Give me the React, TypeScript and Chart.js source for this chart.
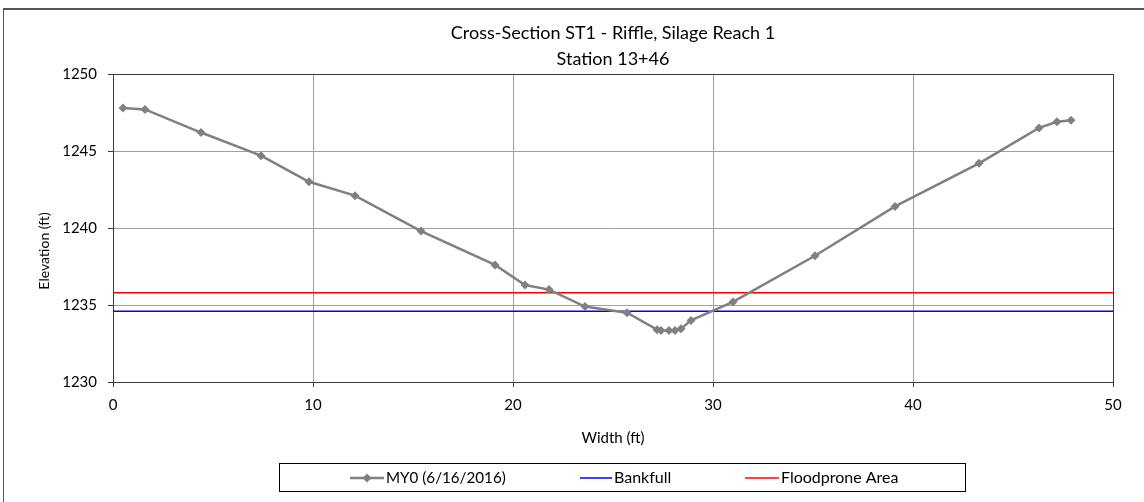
import React, { useEffect, useRef } from "react";
import { Chart, registerables } from "chart.js";

Chart.register(...registerables);

const titleLines = ["Cross-Section ST1 - Riffle, Silage Reach 1", "Station 13+46"];
const xAxisTitle = "Width (ft)";
const yAxisTitle = "Elevation (ft)";

const surveyLabel = "MY0 (6/16/2016)";
const bankfullLabel = "Bankfull";
const floodproneLabel = "Floodprone Area";

const widthFt = [0.5, 1.6, 4.4, 7.4, 9.8, 12.1, 15.4, 19.1, 20.6, 21.8, 23.6, 25.7, 27.2, 27.4, 27.8, 28.1, 28.4, 28.9, 31.0, 35.1, 39.1, 43.3, 46.3, 47.2, 47.9];
const elevationFt = [1247.8, 1247.7, 1246.2, 1244.7, 1243.0, 1242.1, 1239.8, 1237.6, 1236.3, 1236.0, 1234.9, 1234.5, 1233.4, 1233.35, 1233.35, 1233.35, 1233.45, 1234.0, 1235.2, 1238.2, 1241.4, 1244.2, 1246.5, 1246.9, 1247.0];

const bankfullElev = 1234.6;
const floodproneElev = 1235.8;
const xRange = [0, 50];
const yRange = [1230, 1250];
const xStep = 10;
const yStep = 5;

const FONT = "Lato, 'Open Sans', sans-serif";

export default function App() {
  const canvasRef = useRef<HTMLCanvasElement | null>(null);

  useEffect(() => {
    const canvas = canvasRef.current;
    if (!canvas) return;

    const framePlugin = {
      id: "frame",
      beforeDatasetsDraw(chart: any) {
        const { ctx, chartArea: a } = chart;
        ctx.save();
        ctx.strokeStyle = "#3a3a3a";
        ctx.lineWidth = 1;
        ctx.strokeRect(Math.round(a.left) + 0.5, Math.round(a.top) + 0.5, Math.round(a.right - a.left), Math.round(a.bottom - a.top));
        ctx.restore();
      },
    };

    const yTitlePlugin = {
      id: "yTitle",
      afterDraw(chart: any) {
        const { ctx } = chart;
        ctx.save();
        ctx.translate(44, 251);
        ctx.rotate(-Math.PI / 2);
        ctx.font = `14px ${FONT}`;
        ctx.fillStyle = "#000";
        ctx.textAlign = "center";
        ctx.textBaseline = "middle";
        ctx.fillText(yAxisTitle, 0, 0);
        ctx.restore();
      },
    };

    const legendPlugin = {
      id: "boxLegend",
      afterDraw(chart: any) {
        const { ctx } = chart;
        const ds = chart.data.datasets;
        const y = 478;
        ctx.save();
        ctx.strokeStyle = "#000";
        ctx.lineWidth = 1;
        ctx.strokeRect(279.5, 463.5, 686, 28);
        const starts = [350, 580, 745];
        const lens = [34, 32, 34];
        ctx.textBaseline = "middle";
        ctx.textAlign = "left";
        ds.forEach((d: any, i: number) => {
          const x0 = starts[i];
          const x1 = x0 + lens[i];
          ctx.strokeStyle = d.borderColor;
          ctx.lineWidth = i === 0 ? 2.5 : 1.5;
          ctx.beginPath();
          ctx.moveTo(x0, y);
          ctx.lineTo(x1, y);
          ctx.stroke();
          if (i === 0) {
            const cx = (x0 + x1) / 2;
            const r = 4.5;
            ctx.fillStyle = d.pointBackgroundColor;
            ctx.beginPath();
            ctx.moveTo(cx, y - r);
            ctx.lineTo(cx + r, y);
            ctx.lineTo(cx, y + r);
            ctx.lineTo(cx - r, y);
            ctx.closePath();
            ctx.fill();
          }
          ctx.fillStyle = "#000";
          ctx.font = i === 0 ? `15.2px ${FONT}` : `16px ${FONT}`;
          ctx.fillText(d.label, x1 + 2, y);
        });
        ctx.restore();
      },
    };

    const surveyData = widthFt.map((x, i) => ({ x, y: elevationFt[i] }));
    const bankfullData = xRange.map((x) => ({ x, y: bankfullElev }));
    const floodproneData = xRange.map((x) => ({ x, y: floodproneElev }));

    const chart = new Chart(canvas, {
      type: "scatter",
      data: {
        datasets: [
          {
            label: surveyLabel,
            data: surveyData,
            showLine: true,
            borderColor: "#808080",
            backgroundColor: "#808080",
            pointBackgroundColor: "#808080",
            pointBorderColor: "#808080",
            borderWidth: 2.5,
            pointStyle: "rectRot",
            pointRadius: 4.5,
            pointBorderWidth: 0,
          },
          {
            label: bankfullLabel,
            data: bankfullData,
            showLine: true,
            borderColor: "#0000ff",
            backgroundColor: "#0000ff",
            borderWidth: 1.5,
            pointRadius: 0,
          },
          {
            label: floodproneLabel,
            data: floodproneData,
            showLine: true,
            borderColor: "#ff0000",
            backgroundColor: "#ff0000",
            borderWidth: 1.5,
            pointRadius: 0,
          },
        ],
      },
      options: {
        animation: false,
        responsive: true,
        maintainAspectRatio: false,
        layout: { padding: { left: 0, right: 31, top: 0, bottom: 0 } },
        plugins: {
          legend: { display: false },
          tooltip: { enabled: false },
          title: {
            display: true,
            fullSize: false,
            text: titleLines,
            color: "#000",
            font: { family: FONT, size: 18, weight: "normal", lineHeight: 1.445 },
            padding: { top: 20, bottom: 2 },
          },
        },
        scales: {
          x: {
            type: "linear",
            min: xRange[0],
            max: xRange[1],
            afterFit(scale: any) {
              scale.height = 120;
            },
            ticks: {
              stepSize: xStep,
              color: "#000",
              padding: 9,
              font: { family: FONT, size: 15 },
            },
            grid: {
              color: "#a0a0a0",
              tickColor: "#3a3a3a",
              tickLength: 5,
              lineWidth: 1,
            },
            border: { display: true, color: "#3a3a3a", width: 1 },
            title: {
              display: true,
              text: xAxisTitle,
              color: "#000",
              font: { family: FONT, size: 15, lineHeight: 1.2 },
              padding: { top: 0, bottom: 55 },
            },
          },
          y: {
            type: "linear",
            min: yRange[0],
            max: yRange[1],
            afterFit(scale: any) {
              scale.width = 113;
            },
            ticks: {
              stepSize: yStep,
              color: "#000",
              padding: 11,
              font: { family: FONT, size: 15 },
              callback: (v: any) => String(v),
            },
            grid: {
              color: "#a0a0a0",
              tickColor: "#3a3a3a",
              tickLength: 5,
              lineWidth: 1,
            },
            border: { display: true, color: "#3a3a3a", width: 1 },
          },
        },
      },
      plugins: [framePlugin, yTitlePlugin, legendPlugin],
    } as any);

    return () => chart.destroy();
  }, []);

  return (
    <div style={{ position: "absolute", left: 0, top: 0, width: 1144, height: 502, background: "#fff", overflow: "hidden" }}>
      <div
        style={{
          position: "absolute",
          left: 3,
          top: 8,
          width: 1160,
          height: 520,
          borderTop: "2px solid #555",
          borderLeft: "1px solid #555",
          boxSizing: "border-box",
        }}
      />
      <div style={{ position: "absolute", left: 0, top: 0, width: 1144, height: 502 }}>
        <canvas ref={canvasRef} />
      </div>
    </div>
  );
}
